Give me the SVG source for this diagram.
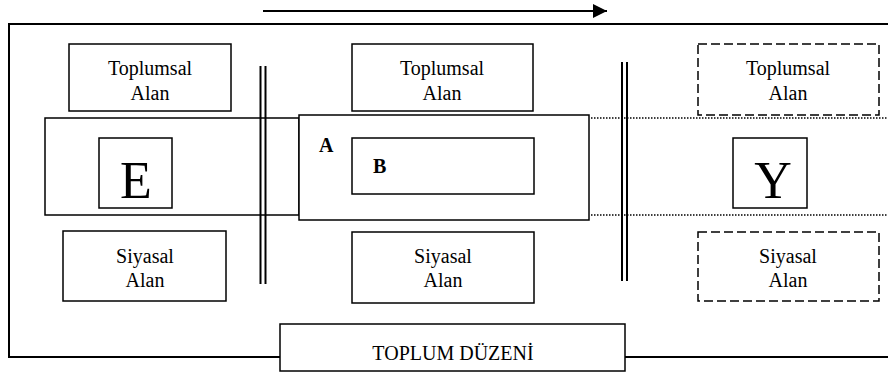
<svg xmlns="http://www.w3.org/2000/svg" width="888" height="374" viewBox="0 0 888 374">
<defs>
<style>
.box{fill:#fff;stroke:#000;stroke-width:1.5}
.dash{fill:#fff;stroke:#000;stroke-width:1.5;stroke-dasharray:9,4}
.ln{stroke:#000;fill:none}
.dot{stroke:#000;fill:none;stroke-width:1.3;stroke-dasharray:1.5,1.5}
.t{font-family:"Liberation Serif","Times New Roman",serif;font-size:20px;fill:#000;text-anchor:middle}
.big{font-family:"Liberation Serif","Times New Roman",serif;font-size:52px;fill:#000;text-anchor:middle}
.lbl{font-family:"Liberation Serif","Times New Roman",serif;font-size:20px;font-weight:bold;fill:#000}
</style>
<marker id="ah" markerWidth="14" markerHeight="14" refX="14" refY="7" orient="auto" markerUnits="userSpaceOnUse">
<path d="M0,0 L14,7 L0,14 Z" fill="#000"/>
</marker>
</defs>
<rect width="888" height="374" fill="#fff"/>
<g id="frame">
<path class="ln" stroke-width="2" d="M888,24 H9 V357 H888"/>
</g>
<g id="e-band">
<rect class="box" x="45" y="118" width="254" height="97"/>
</g>
<g id="a-box">
<rect class="box" x="299" y="115" width="290" height="105"/>
<text class="lbl" x="319" y="152">A</text>
</g>
<g id="b-box">
<rect class="box" x="352" y="138" width="182" height="56"/>
<text class="lbl" x="373" y="173">B</text>
</g>
<g id="e-node">
<rect class="box" x="99" y="138" width="73" height="70"/>
<text class="big" x="136" y="198">E</text>
</g>
<g id="y-node">
<rect class="box" x="733" y="138" width="74" height="70"/>
<text class="big" x="773" y="198">Y</text>
</g>
<g id="toplumsal-1">
<rect class="box" x="69" y="44" width="162" height="67"/>
<text class="t" x="150" y="75">Toplumsal</text>
<text class="t" x="150" y="100">Alan</text>
</g>
<g id="toplumsal-2">
<rect class="box" x="352" y="44" width="181" height="67"/>
<text class="t" x="442" y="75">Toplumsal</text>
<text class="t" x="442" y="100">Alan</text>
</g>
<g id="toplumsal-3">
<rect class="dash" x="698" y="44" width="181" height="71"/>
<text class="t" x="788" y="75">Toplumsal</text>
<text class="t" x="788" y="100">Alan</text>
</g>
<g id="siyasal-1">
<rect class="box" x="63" y="231" width="163" height="70"/>
<text class="t" x="145" y="263">Siyasal</text>
<text class="t" x="145" y="287">Alan</text>
</g>
<g id="siyasal-2">
<rect class="box" x="352" y="232" width="182" height="71"/>
<text class="t" x="443" y="263">Siyasal</text>
<text class="t" x="443" y="287">Alan</text>
</g>
<g id="siyasal-3">
<rect class="dash" x="698" y="232" width="181" height="69"/>
<text class="t" x="788" y="263">Siyasal</text>
<text class="t" x="788" y="287">Alan</text>
</g>
<g id="toplum-duzeni">
<rect class="box" x="280" y="324" width="345" height="47"/>
<text class="t" x="453" y="360">TOPLUM DÜZENİ</text>
</g>
<g id="connectors">
<line class="ln" stroke-width="2" x1="263" y1="11" x2="607" y2="11" marker-end="url(#ah)"/>
<line class="ln" stroke-width="2" x1="260.5" y1="66" x2="260.5" y2="284"/>
<line class="ln" stroke-width="2" x1="265.5" y1="66" x2="265.5" y2="284"/>
<line class="ln" stroke-width="2" x1="622" y1="62" x2="622" y2="281"/>
<line class="ln" stroke-width="2" x1="627" y1="62" x2="627" y2="281"/>
<line class="dot" x1="591" y1="118" x2="888" y2="118"/>
<line class="dot" x1="591" y1="215" x2="888" y2="215"/>
</g>
</svg>
